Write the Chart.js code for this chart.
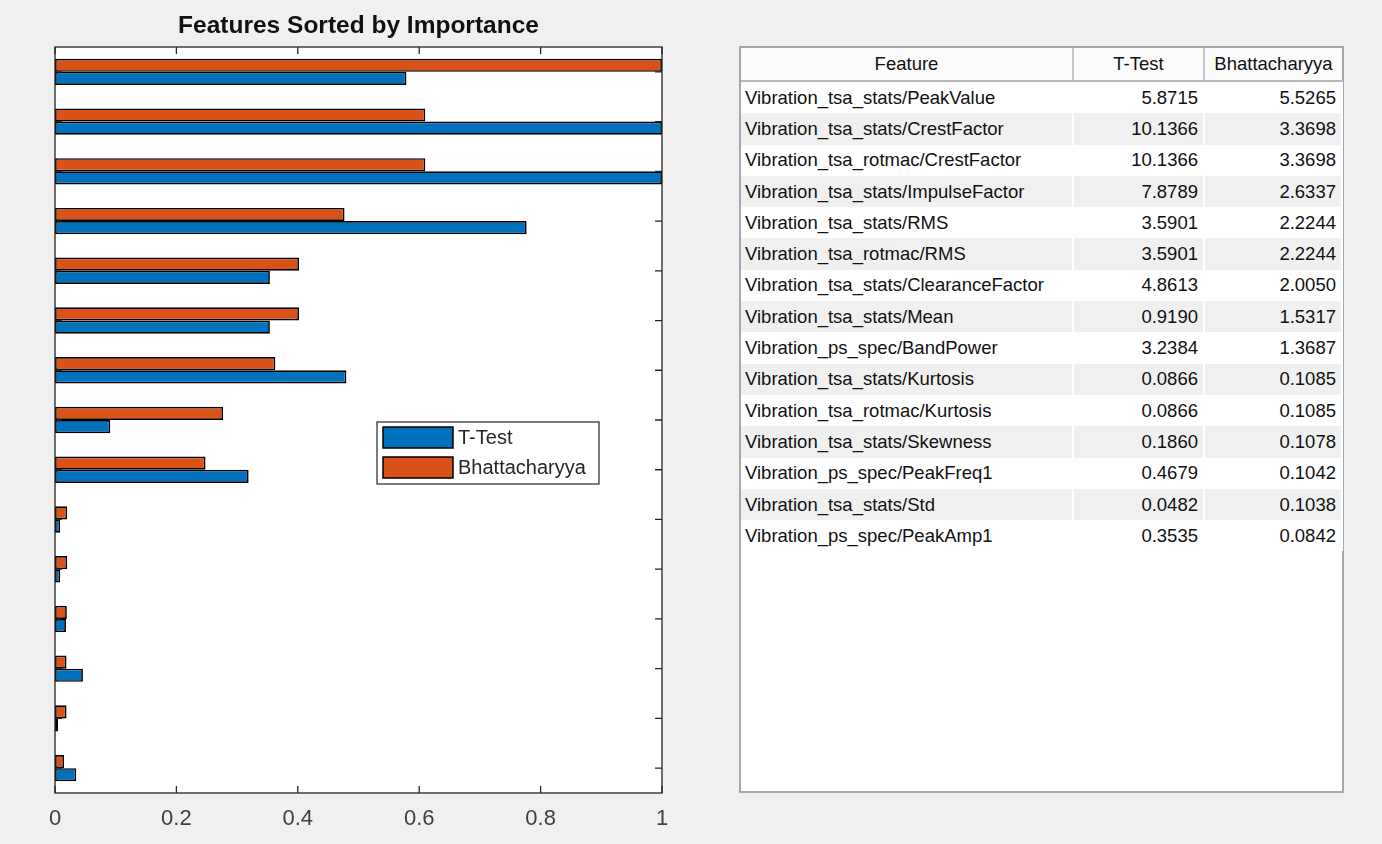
<!DOCTYPE html>
<html>
<head>
<meta charset="utf-8">
<script src="https://cdn.jsdelivr.net/npm/chart.js@4/dist/chart.umd.min.js"></script>
<style>
  html, body { margin: 0; padding: 0; background: #f0f0f0; }
  body { width: 1382px; height: 844px; position: relative; overflow: hidden; font-family: "Liberation Sans", Arial, sans-serif; }
  #chartBox { position: absolute; left: 0; top: 0; width: 720px; height: 844px; }
  #tableWrap {
    position: absolute; left: 739px; top: 46px; width: 601px; height: 743px;
    background: #fff; border: 2px solid #a4a7ae;
  }
  #featTable { border-collapse: collapse; table-layout: fixed; width: 601px; font-size: 18.5px; color: #111; }
  #featTable th {
    height: 32px; font-weight: normal; text-align: center; background: #fbfbfb;
    border-right: 2px solid #c6c6c6; border-bottom: 2px solid #b8b8b8; padding: 0; white-space: nowrap; overflow: hidden;
  }
  #featTable th:last-child { border-right: none; }
  #featTable td { height: 31.3px; padding: 0 5px 0 4px; border-right: 2px solid #fff; white-space: nowrap; overflow: hidden; }
  #featTable td.num { text-align: right; }
  #featTable tbody tr:nth-child(even) td { background: #f0f0f0; }
</style>
</head>
<body>
<div id="chartBox"><canvas id="grafico"></canvas></div>
<div id="tableWrap">
  <table id="featTable">
    <colgroup><col style="width:332px"><col style="width:131px"><col style="width:138px"></colgroup>
    <thead><tr><th>Feature</th><th>T-Test</th><th>Bhattacharyya</th></tr></thead>
    <tbody id="tablaCuerpo"></tbody>
  </table>
</div>
<script>
// Nombres de las features, ordenadas por importancia
const features = [
    'Vibration_tsa_stats/PeakValue',
    'Vibration_tsa_stats/CrestFactor',
    'Vibration_tsa_rotmac/CrestFactor',
    'Vibration_tsa_stats/ImpulseFactor',
    'Vibration_tsa_stats/RMS',
    'Vibration_tsa_rotmac/RMS',
    'Vibration_tsa_stats/ClearanceFactor',
    'Vibration_tsa_stats/Mean',
    'Vibration_ps_spec/BandPower',
    'Vibration_tsa_stats/Kurtosis',
    'Vibration_tsa_rotmac/Kurtosis',
    'Vibration_tsa_stats/Skewness',
    'Vibration_ps_spec/PeakFreq1',
    'Vibration_tsa_stats/Std',
    'Vibration_ps_spec/PeakAmp1'
];

// Valores de la tabla (tal cual se leen)
const tTestTabla = ['5.8715', '10.1366', '10.1366', '7.8789', '3.5901', '3.5901', '4.8613', '0.9190',
                    '3.2384', '0.0866', '0.0866', '0.1860', '0.4679', '0.0482', '0.3535'];
const bhattTabla = ['5.5265', '3.3698', '3.3698', '2.6337', '2.2244', '2.2244', '2.0050', '1.5317',
                    '1.3687', '0.1085', '0.1085', '0.1078', '0.1042', '0.1038', '0.0842'];

// Largo de las barras (importancia normalizada)
const tTestBarras = [0.579, 1.0, 1.0, 0.777, 0.354, 0.354, 0.480, 0.091, 0.319, 0.0085, 0.0085, 0.018, 0.046, 0.005, 0.035];
const bhattBarras = [1.0, 0.610, 0.610, 0.477, 0.402, 0.402, 0.363, 0.277, 0.248, 0.020, 0.020, 0.0195, 0.019, 0.019, 0.015];

// Marcas del eje x
const xTicks = [0, 0.2, 0.4, 0.6, 0.8, 1];

const AZUL = '#0072bd';
const NARANJA = '#d95319';
const EJE = '#262626';

// Llenar la tabla
const cuerpo = document.getElementById('tablaCuerpo');
features.forEach((f, i) => {
    const tr = document.createElement('tr');
    tr.innerHTML = `<td>${f}</td><td class="num">${tTestTabla[i]}</td><td class="num">${bhattTabla[i]}</td>`;
    cuerpo.appendChild(tr);
});

// Plugin: fondo blanco, caja, marcas hacia adentro y leyenda dentro del eje
const cajaEjes = {
    id: 'cajaEjes',
    beforeDraw(chart) {
        const { ctx, chartArea: a } = chart;
        ctx.save();
        ctx.fillStyle = '#fff';
        ctx.fillRect(a.left, a.top, a.width, a.height);
        ctx.restore();
    },
    afterDatasetsDraw(chart) {
        const { ctx, chartArea: a, scales: { x, y } } = chart;
        const largo = 7;
        ctx.save();
        ctx.strokeStyle = EJE;
        ctx.lineWidth = 1.3;
        ctx.beginPath();
        xTicks.forEach(v => {
            const px = x.getPixelForValue(v);
            ctx.moveTo(px, a.bottom); ctx.lineTo(px, a.bottom - largo);
            ctx.moveTo(px, a.top); ctx.lineTo(px, a.top + largo);
        });
        features.forEach((f, i) => {
            const py = y.getPixelForValue(i);
            ctx.moveTo(a.left, py); ctx.lineTo(a.left + largo, py);
            ctx.moveTo(a.right, py); ctx.lineTo(a.right - largo, py);
        });
        ctx.stroke();
        ctx.strokeRect(a.left, a.top, a.width, a.height);

        // Leyenda
        const lx = a.left + 322, ly = a.top + 375, lw = 222, lh = 62;
        ctx.fillStyle = '#fff';
        ctx.fillRect(lx, ly, lw, lh);
        ctx.lineWidth = 1.2;
        ctx.strokeStyle = EJE;
        ctx.strokeRect(lx, ly, lw, lh);
        const items = [['T-Test', AZUL], ['Bhattacharyya', NARANJA]];
        ctx.font = '20px "Liberation Sans", Arial, sans-serif';
        ctx.textBaseline = 'middle';
        items.forEach(([txt, col], k) => {
            const sy = ly + 5 + k * 30;
            ctx.fillStyle = col;
            ctx.fillRect(lx + 6, sy, 70, 21);
            ctx.lineWidth = 1.5;
            ctx.strokeStyle = '#000';
            ctx.strokeRect(lx + 6, sy, 70, 21);
            ctx.fillStyle = EJE;
            ctx.fillText(txt, lx + 81, sy + 11);
        });
        ctx.restore();
    }
};

const ctx = document.getElementById('grafico').getContext('2d');
new Chart(ctx, {
    type: 'bar',
    data: {
        labels: features,
        datasets: [
            {
                label: 'Bhattacharyya',
                data: bhattBarras,
                backgroundColor: NARANJA,
                borderColor: '#000',
                borderWidth: 1.7,
                borderSkipped: false
            },
            {
                label: 'T-Test',
                data: tTestBarras,
                backgroundColor: AZUL,
                borderColor: '#000',
                borderWidth: 1.7,
                borderSkipped: false
            }
        ]
    },
    options: {
        indexAxis: 'y',
        responsive: true,
        maintainAspectRatio: false,
        animation: false,
        categoryPercentage: 0.53,
        barPercentage: 1.0,
        layout: { padding: { left: 55, right: 58, top: 0, bottom: 0 } },
        scales: {
            y: { display: false },
            x: {
                min: 0,
                max: 1,
                border: { display: false },
                grid: { display: false, drawTicks: false },
                ticks: {
                    stepSize: 0.2,
                    padding: 13,
                    color: '#404040',
                    font: { family: '"Liberation Sans", Arial, sans-serif', size: 22 },
                    callback: v => String(+v.toFixed(1))
                },
                afterFit: s => { s.height = 51; }
            }
        },
        plugins: {
            legend: { display: false },
            tooltip: { enabled: false },
            title: {
                display: true,
                text: 'Features Sorted by Importance',
                color: '#111',
                font: { family: '"Liberation Sans", Arial, sans-serif', size: 24.5, weight: 'bold' },
                padding: { top: 12, bottom: 5.6 }
            }
        }
    },
    plugins: [cajaEjes]
});
</script>
</body>
</html>
